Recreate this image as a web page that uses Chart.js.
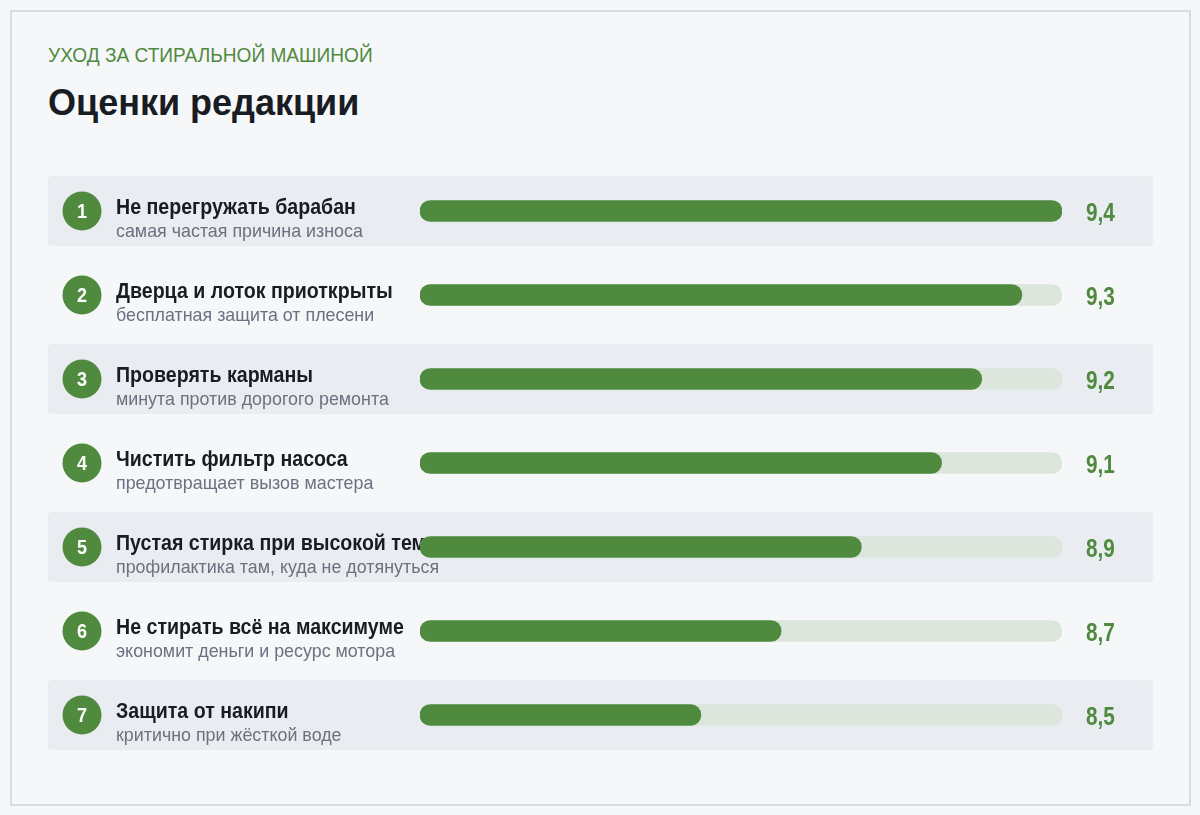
<!DOCTYPE html>
<html>
<head>
<meta charset="utf-8">
<script src="https://cdn.jsdelivr.net/npm/chart.js@4"></script>
<style>
  body { margin:0; background:#f6f7f9; font-family:"Liberation Sans", Arial, sans-serif; }
  .card { position:absolute; left:10px; top:10px; width:1177px; height:792px; border:2px solid #d8dbe2; background:#f6f7f9; }
  .kicker { position:absolute; left:48px; top:44px; font-size:20px; color:#4f8a3f; transform:scaleX(0.955); transform-origin:left top; white-space:nowrap; }
  .title { position:absolute; left:48px; top:82px; font-size:36px; font-weight:bold; color:#191c23; white-space:nowrap; }
  canvas { position:absolute; left:0; top:0; }
</style>
</head>
<body>
<div class="card"></div>
<div class="kicker">УХОД ЗА СТИРАЛЬНОЙ МАШИНОЙ</div>
<div class="title">Оценки редакции</div>
<canvas id="myChart" width="1200" height="815"></canvas>
<script>
var titles = ["Не перегружать барабан", "Дверца и лоток приоткрыты", "Проверять карманы",
  "Чистить фильтр насоса", "Пустая стирка при высокой температуре", "Не стирать всё на максимуме", "Защита от накипи"];
var notes = ["самая частая причина износа", "бесплатная защита от плесени", "минута против дорогого ремонта",
  "предотвращает вызов мастера", "профилактика там, куда не дотянуться", "экономит деньги и ресурс мотора", "критично при жёсткой воде"];
var scores = [9.4, 9.3, 9.2, 9.1, 8.9, 8.7, 8.5];
var scoreMin = 7.8;
var scoreMax = 9.4;

var green = "#4f8a3f";

// slightly narrow text: squeeze the normal font sideways
function narrowText(ctx, text, x, y, squeeze) {
  ctx.save();
  ctx.translate(x, y);
  ctx.scale(squeeze, 1);
  ctx.fillText(text, 0, 0);
  ctx.restore();
}

// rows, circles and labels drawn under the bars, values on top
var rowsPlugin = {
  id: "rows",
  beforeDatasetsDraw: function (chart) {
    var ctx = chart.ctx, y = chart.scales.y;
    ctx.save();
    for (let i = 0; i < titles.length; i++) {
      var cy = y.getPixelForValue(i);
      if (i % 2 === 0) {
        ctx.fillStyle = "#e9ecf0";
        ctx.beginPath();
        ctx.roundRect(48, cy - 35, 1105, 70, 4);
        ctx.fill();
      }
      ctx.fillStyle = green;
      ctx.beginPath();
      ctx.arc(82, cy, 19.5, 0, Math.PI * 2);
      ctx.fill();
      ctx.fillStyle = "#ffffff";
      ctx.font = "bold 20px 'Liberation Sans'";
      ctx.textAlign = "center";
      ctx.textBaseline = "alphabetic";
      narrowText(ctx, String(i + 1), 82, cy + 7, 0.9);

      ctx.textAlign = "left";
      ctx.fillStyle = "#191c23";
      ctx.font = "bold 21.3px 'Liberation Sans'";
      narrowText(ctx, titles[i], 116, cy + 3, 0.92);
      ctx.fillStyle = "#6b7180";
      ctx.font = "19px 'Liberation Sans'";
      narrowText(ctx, notes[i], 116, cy + 26, 0.94);
    }
    ctx.restore();
  },
  afterDatasetsDraw: function (chart) {
    var ctx = chart.ctx, y = chart.scales.y, area = chart.chartArea;
    ctx.save();
    ctx.fillStyle = green;
    ctx.font = "bold 26px 'Liberation Sans'";
    ctx.textAlign = "left";
    ctx.textBaseline = "alphabetic";
    for (let i = 0; i < scores.length; i++) {
      narrowText(ctx, scores[i].toFixed(1).replace(".", ","), area.right + 24, y.getPixelForValue(i) + 10, 0.8);
    }
    ctx.restore();
  }
};

var myChart = new Chart("myChart", {
  type: "bar",
  data: {
    labels: titles,
    datasets: [{
      data: scores,
      base: scoreMin,
      backgroundColor: green,
      borderRadius: 11,
      borderSkipped: false,
      barThickness: 21,
      grouped: false,
      order: 0
    }, {
      data: scores.map(function () { return scoreMax; }),
      base: scoreMin,
      backgroundColor: "#dce6dc",
      borderRadius: 11,
      borderSkipped: false,
      barThickness: 21,
      grouped: false,
      order: 1
    }]
  },
  options: {
    indexAxis: "y",
    responsive: false,
    animation: false,
    layout: { padding: { left: 420, right: 138, top: 169, bottom: 58 } },
    plugins: { legend: { display: false }, tooltip: { enabled: false } },
    scales: {
      x: { display: false, min: scoreMin, max: scoreMax },
      y: { display: false }
    }
  },
  plugins: [rowsPlugin]
});
</script>
</body>
</html>
